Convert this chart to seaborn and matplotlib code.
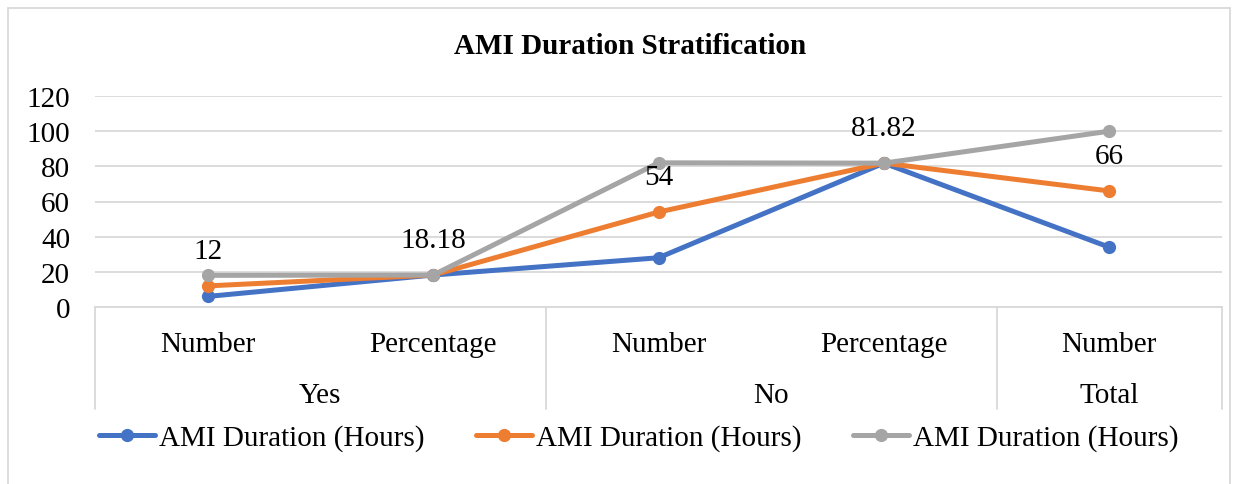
import matplotlib
matplotlib.use("Agg")
import matplotlib.pyplot as plt
import matplotlib.patches as patches
import matplotlib.transforms as mtransforms
import seaborn as sns
import pandas as pd

# chart data
sub_labels = ["Number", "Percentage", "Number", "Percentage", "Number"]
group_labels = ["Yes", "No", "Total"]
group_sizes = [2, 2, 1]
series_names = ["AMI Duration (Hours)", "AMI Duration (Hours)", "AMI Duration (Hours)"]
blue_vals = [6, 18.18, 28, 81.82, 34]
orange_vals = [12, 18.18, 54, 81.82, 66]
gray_vals = [18, 18.18, 82, 81.82, 100]
data_labels = ["12", "18.18", "54", "81.82", "66"]
y_ticks = [0, 20, 40, 60, 80, 100, 120]

colors = ["#4472C4", "#ED7D31", "#A5A5A5"]
grid_color = "#D9D9D9"
fs = 21

sns.set_style("white")
plt.rcParams["font.family"] = ["Liberation Serif", "DejaVu Serif"]
plt.rcParams["text.color"] = "black"
plt.rcParams["ytick.color"] = "black"

fig = plt.figure(figsize=(12.44, 4.85), dpi=100)
ax = fig.add_axes([95 / 1244, 1 - 308 / 485, (1222 - 95) / 1244, (308 - 97) / 485])

x = list(range(len(sub_labels)))
for vals, name, c in zip([blue_vals, orange_vals, gray_vals], series_names, colors):
    df = pd.DataFrame({"x": x, "y": vals})
    sns.lineplot(data=df, x="x", y="y", ax=ax, color=c, linewidth=3.6,
                 marker="o", markersize=9.5, markeredgewidth=0, label=name,
                 solid_capstyle="round")

# data labels on the orange series
for xi, yi, lab in zip(x, orange_vals, data_labels):
    ax.annotate(lab, (xi, yi), xytext=(0, 25), textcoords="offset points",
                ha="center", va="center", fontsize=fs, color="black")

ax.set_xlim(-0.5, len(sub_labels) - 0.5)
ax.set_ylim(0, 120)
ax.set_yticks(y_ticks)
ax.set_yticklabels([str(t) for t in y_ticks], fontsize=fs, color="black")
ax.tick_params(axis="y", length=0, pad=18)
ax.set_xticks([])
ax.set_xlabel("")
ax.set_ylabel("")
ax.grid(axis="y", color=grid_color, linewidth=1.3)
ax.set_axisbelow(True)
for s in ["left", "right", "top"]:
    ax.spines[s].set_visible(False)
ax.spines["bottom"].set_color(grid_color)
ax.spines["bottom"].set_linewidth(1.3)
ax.get_legend().remove()

# multi-level category axis
trans = mtransforms.blended_transform_factory(ax.transData, ax.transAxes)
for xi, lab in zip(x, sub_labels):
    ax.text(xi, -0.175, lab, transform=trans, ha="center", va="center",
            fontsize=fs, color="black")
bounds = [-0.5]
for g in group_sizes:
    bounds.append(bounds[-1] + g)
for b in bounds:
    ax.plot([b, b], [0, -0.483], transform=trans, color=grid_color,
            linewidth=1.3, clip_on=False)
for i, lab in enumerate(group_labels):
    ax.text((bounds[i] + bounds[i + 1]) / 2, -0.415, lab, transform=trans,
            ha="center", va="center", fontsize=fs, color="black")

fig.text(630 / 1244, 1 - 47 / 485, "AMI Duration Stratification", ha="center",
         va="center", fontsize=fs, fontweight="bold", color="black")

handles, labels = ax.get_legend_handles_labels()
leg = fig.legend(handles, labels, loc="center", bbox_to_anchor=(639 / 1244, 1 - 439 / 485),
                 ncol=3, frameon=False, fontsize=fs, handlelength=1.9,
                 handletextpad=0.15, columnspacing=1.77)
for t in leg.get_texts():
    t.set_color("black")

fig.patches.append(patches.Rectangle((8 / 1244, -0.02), (1230 - 8) / 1244, 1 - 9 / 485 + 0.02,
                                     transform=fig.transFigure, fill=False,
                                     edgecolor=grid_color, linewidth=1.3))

fig.savefig("out.png", dpi=100)
